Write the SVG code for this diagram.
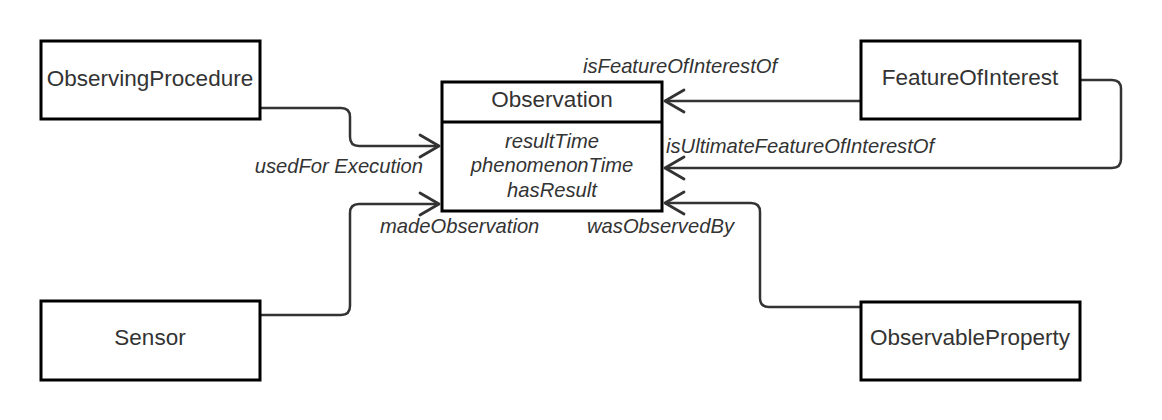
<svg xmlns="http://www.w3.org/2000/svg" width="1162" height="420" viewBox="0 0 1162 420">
<style>
.box{fill:#fff;stroke:#000;stroke-width:3}
.t{font-family:"Liberation Sans",Arial,sans-serif;font-size:22.5px;fill:#333;text-anchor:middle}
.a{font-family:"Liberation Sans",Arial,sans-serif;font-size:20.2px;font-style:italic;fill:#333}
.c{fill:none;stroke:#333;stroke-width:2.5;stroke-linejoin:round}
</style>
<defs>
<marker id="arr" markerUnits="userSpaceOnUse" viewBox="-24 -14 28 28" markerWidth="28" markerHeight="28" refX="0" refY="0" orient="auto">
<path d="M-19,-11 L0,0 L-19,11" fill="none" stroke="#333" stroke-width="2.8" stroke-linecap="round" stroke-linejoin="round"/>
</marker>
</defs>
<rect width="1162" height="420" fill="#fff"/>
<g id="connectors">
<path class="c" d="M261,108 H341 Q350,108 350,117 V137 Q350,146 359,146 H439" marker-end="url(#arr)"/>
<path class="c" d="M261,315 H341 Q350,315 350,306 V213 Q350,204 359,204 H439" marker-end="url(#arr)"/>
<path class="c" d="M860,101 H665" marker-end="url(#arr)"/>
<path class="c" d="M1081,80 H1112 Q1121,80 1121,89 V159 Q1121,168 1112,168 H665" marker-end="url(#arr)"/>
<path class="c" d="M860,307 H769 Q760,307 760,298 V212 Q760,203 751,203 H665" marker-end="url(#arr)"/>
<text class="a" x="423" y="173" text-anchor="end">usedFor Execution</text>
<text class="a" x="380" y="233">madeObservation</text>
<text class="a" x="587" y="233">wasObservedBy</text>
<text class="a" x="583" y="73">isFeatureOfInterestOf</text>
<text class="a" x="666" y="153">isUltimateFeatureOfInterestOf</text>
</g>
<g id="ObservingProcedure">
<rect class="box" x="41" y="41" width="219" height="78"/>
<text class="t" x="150" y="86">ObservingProcedure</text>
</g>
<g id="Sensor">
<rect class="box" x="41" y="301" width="219" height="79"/>
<text class="t" x="150" y="345">Sensor</text>
</g>
<g id="FeatureOfInterest">
<rect class="box" x="861" y="41" width="219" height="78"/>
<text class="t" x="970" y="85">FeatureOfInterest</text>
</g>
<g id="ObservableProperty">
<rect class="box" x="861" y="302" width="219" height="78"/>
<text class="t" x="970" y="345">ObservableProperty</text>
</g>
<g id="Observation">
<rect class="box" x="442" y="82" width="220" height="129"/>
<line x1="442" y1="122" x2="662" y2="122" stroke="#000" stroke-width="3"/>
<text class="t" x="552" y="107">Observation</text>
<text class="a" x="552" y="148" text-anchor="middle">resultTime</text>
<text class="a" x="552" y="172" text-anchor="middle">phenomenonTime</text>
<text class="a" x="552" y="197" text-anchor="middle">hasResult</text>
</g>
</svg>
